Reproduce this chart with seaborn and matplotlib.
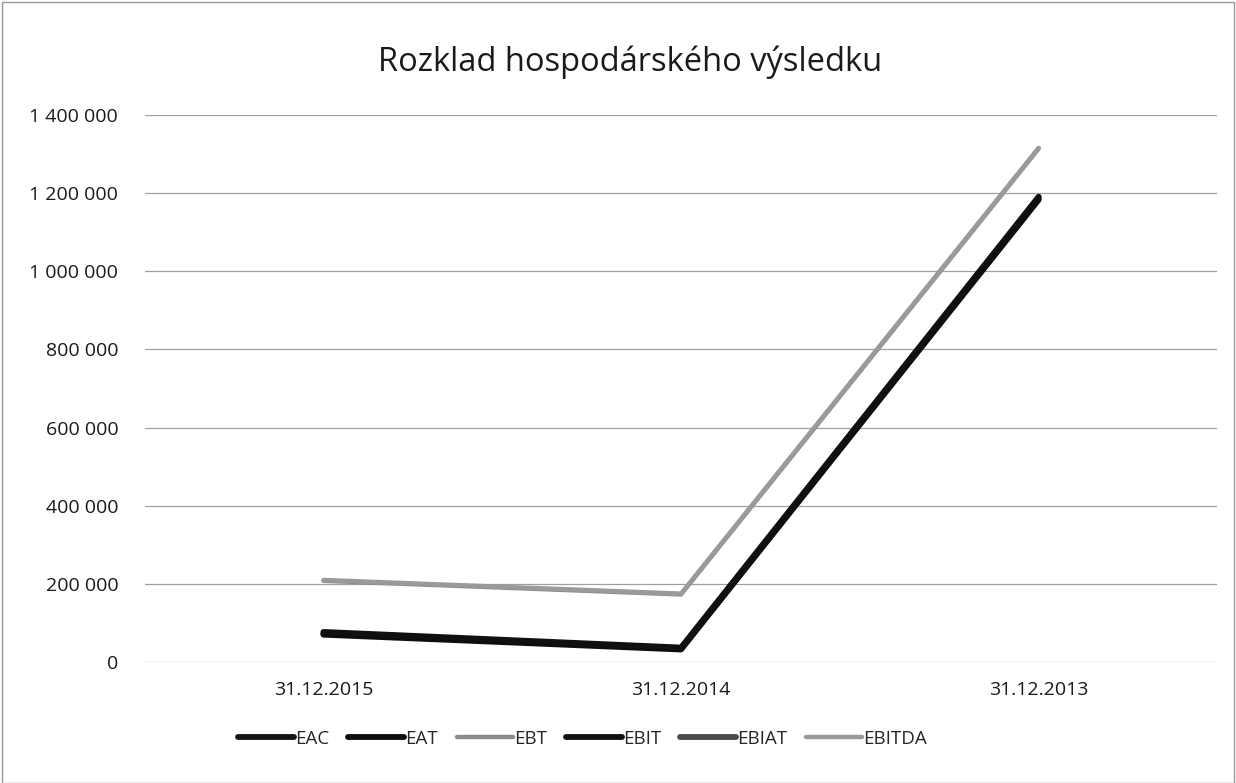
import pandas as pd
import matplotlib.pyplot as plt
import seaborn as sns
from matplotlib.ticker import FuncFormatter

# Data
obdobi = ["31.12.2015", "31.12.2014", "31.12.2013"]
eac = [70000, 32000, 1183000]
eat = [72000, 34000, 1186000]
ebt = [208000, 173000, 1314000]
ebit = [77000, 37000, 1191000]
ebiat = [74000, 35000, 1188000]
ebitda = [210000, 175000, 1316000]

serie = ["EAC", "EAT", "EBT", "EBIT", "EBIAT", "EBITDA"]
hodnoty = [eac, eat, ebt, ebit, ebiat, ebitda]
barvy = ["#141414", "#0c0c0c", "#8c8c8c", "#101010", "#4a4a4a", "#9a9a9a"]

df = pd.DataFrame(
    [(o, s, v) for s, vals in zip(serie, hodnoty) for o, v in zip(obdobi, vals)],
    columns=["Obdobi", "Ukazatel", "Hodnota"],
)

sns.set_style("white")
plt.rcParams["font.family"] = ["Open Sans", "DejaVu Sans"]

fig = plt.figure(figsize=(12.36, 7.83), dpi=100)
ax = fig.add_axes([0.117, 0.1545, 0.868, 0.6986])

sns.lineplot(
    data=df, x="Obdobi", y="Hodnota", hue="Ukazatel",
    palette=dict(zip(serie, barvy)), sort=False, ax=ax, linewidth=4.2,
)
for line, s in zip(ax.get_lines(), serie):
    if s in ("EBT", "EBITDA"):
        line.set_linewidth(3.2)
    if s == "EBIAT":
        line.set_zorder(1.5)

ax.set_xlim(-0.5, 2.5)
ax.set_ylim(0, 1400000)
ax.set_yticks(range(0, 1400001, 200000))
ax.yaxis.set_major_formatter(FuncFormatter(lambda v, p: f"{int(v):,}".replace(",", " ")))
ax.grid(axis="y", color="#a0a0a0", linewidth=0.9)
ax.set_axisbelow(True)
for sp in ax.spines.values():
    sp.set_visible(False)
ax.tick_params(axis="both", length=0, labelsize=14, colors="#1a1a1a")
ax.tick_params(axis="y", pad=19)
ax.tick_params(axis="x", pad=14)
ax.set_xlabel("")
ax.set_ylabel("")

fig.text(0.51, 0.921, "Rozklad hospodárského výsledku", ha="center", va="center",
         fontsize=23.5, color="#1a1a1a")

ax.legend(
    handles=ax.get_lines()[:6], labels=serie, loc="center",
    bbox_to_anchor=(0.408, -0.14), ncol=6, frameon=False,
    fontsize=13.5, handlelength=3.0, handletextpad=0.05, columnspacing=1.0,
)

# thin border around the chart area
fig.patches.append(plt.Rectangle((0.002, 0.0), 0.996, 0.998, transform=fig.transFigure,
                                 fill=False, edgecolor="#999999", linewidth=1.0))

plt.savefig("out.png", dpi=100)
